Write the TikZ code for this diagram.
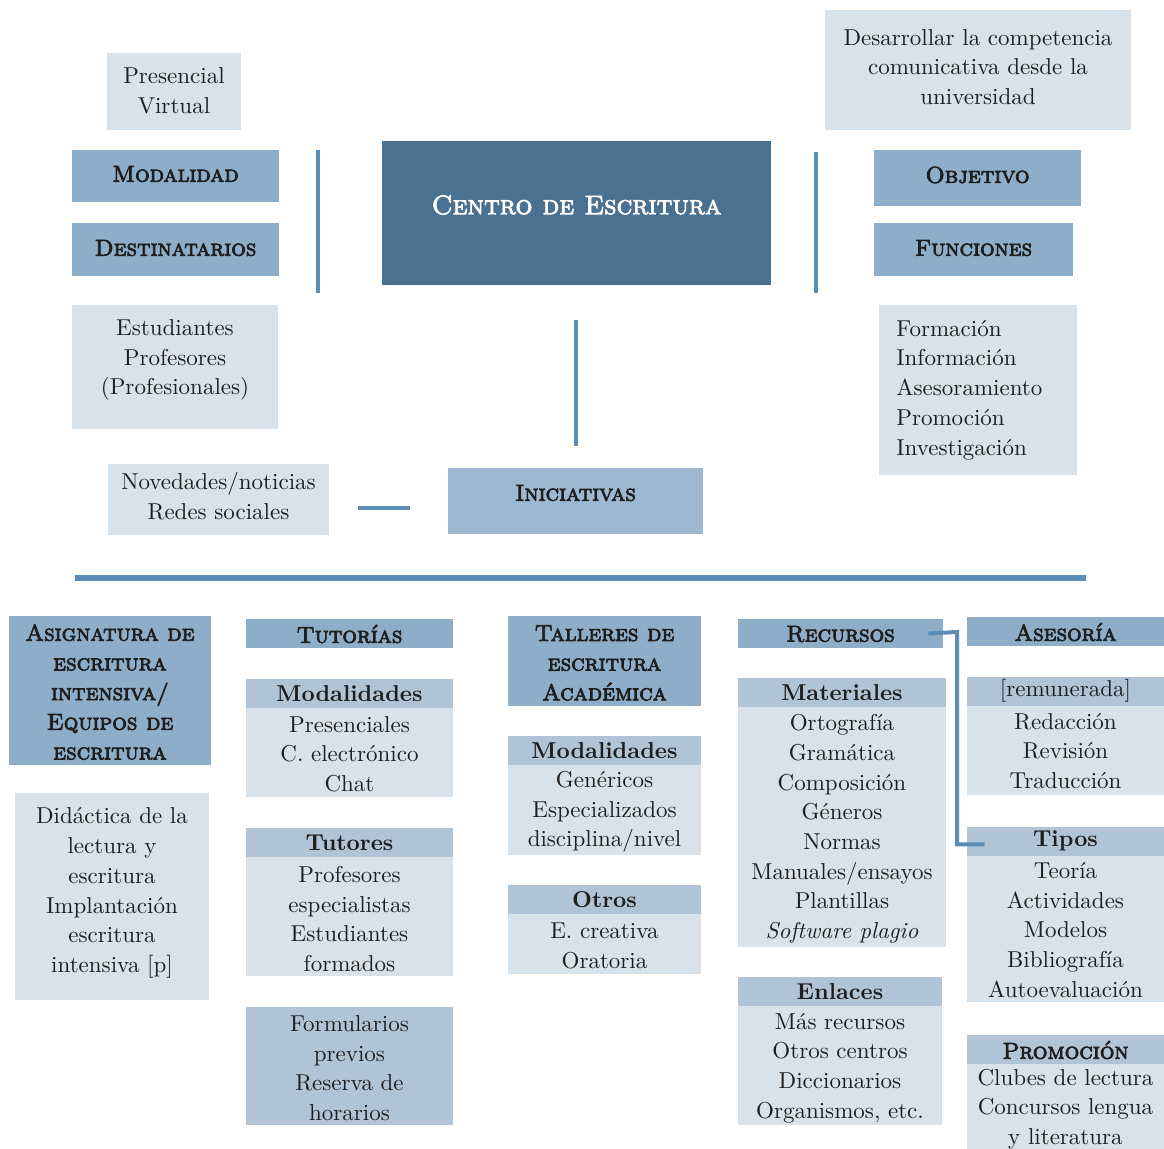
\documentclass[tikz,border=0pt]{standalone}
\usepackage{fontspec}
\newfontfamily\capsfont{lmromancaps10-regular.otf}
\newfontfamily\bodyf{lmroman10-regular.otf}[ItalicFont=lmroman10-italic.otf, BoldFont=lmroman10-bold.otf]
\newcommand\heavytext{\special{pdf:literal direct 2 Tr 0.38 w}}
\usetikzlibrary{calc}
\definecolor{cdark}{HTML}{4B7191}
\definecolor{cmed}{HTML}{8EADC8}
\definecolor{cini}{HTML}{9DB8D0}
\definecolor{csub}{HTML}{B0C4D6}
\definecolor{clight}{HTML}{D7E2EB}
\definecolor{cline}{HTML}{5B8DB5}
\definecolor{ctext}{HTML}{1E1E1E}
\tikzset{
  boxbase/.style={rectangle, inner sep=0pt, draw=none},
  darkbox/.style={boxbase, fill=cdark},
  medbox/.style={boxbase, fill=cmed},
  inibox/.style={boxbase, fill=cini},
  subbox/.style={boxbase, fill=csub},
  lightbox/.style={boxbase, fill=clight},
  txt/.style={align=center, inner sep=0pt, text=ctext, font=\bodyf\fontsize{11.5}{14.85}\selectfont},
  hd/.style={align=center, inner sep=0pt, text=ctext, font=\capsfont\fontsize{11.5}{14.85}\selectfont\heavytext},
  sh/.style={align=center, inner sep=0pt, text=ctext, font=\bodyf\bfseries\fontsize{11.5}{14.85}\selectfont},
  title/.style={align=center, inner sep=0pt, text=white, font=\capsfont\fontsize{13.4}{16}\selectfont\heavytext},
  conn/.style={draw=cline, line width=2pt},
  bigconn/.style={draw=cline, line width=2.6pt}
}
% name, box style, x1, y1, x2, y2, text style, text y, text
\newcommand\bx[9]{%
  \node[#2, minimum width={(#5-#3)*0.5pt}, minimum height={(#6-#4)*0.5pt}] (#1) at ({(#3+#5)/2},{(#4+#6)/2}) {};
  \node[#7] (#1-t) at ({(#3+#5)/2},#8) {#9};}
\begin{document}
\begin{tikzpicture}[x=0.5pt,y=-0.5pt]
\useasboundingbox[fill=white] (0,0) rectangle (1164,1149);
% ---- top left
\bx{pv}{lightbox}{107}{53}{241}{130}{txt}{91}{Presencial\\Virtual}
\bx{modalidad}{medbox}{72}{150}{279}{202}{hd}{174}{Modalidad}
\bx{destin}{medbox}{72}{223}{279}{276}{hd}{248}{Destinatarios}
\bx{estud}{lightbox}{72}{305}{278}{429}{txt}{360}{Estudiantes\\Profesores\\(Profesionales)}
% ---- centre
\bx{centro}{darkbox}{382}{141}{771}{285}{title}{205}{Centro de Escritura}
% ---- top right
\bx{desarr}{lightbox}{825}{10}{1131}{130}{txt}{67}{Desarrollar la competencia\\comunicativa desde la\\universidad}
\bx{objetivo}{medbox}{874}{150}{1081}{206}{hd}{175}{Objetivo}
\bx{funciones}{medbox}{874}{223}{1073}{276}{hd}{248}{Funciones}
\node[lightbox, minimum width={(1077-879)*0.5pt}, minimum height={(475-305)*0.5pt}] (formac) at ({(879+1077)/2},{(305+475)/2}) {};
\node[txt, align=left, anchor=west] (formac-t) at (896,390) {Formación\\Información\\Asesoramiento\\Promoción\\Investigación};
% ---- iniciativas
\bx{inic}{inibox}{448}{468}{703}{534}{hd}{493}{Iniciativas}
\bx{noved}{lightbox}{108}{464}{329}{535}{txt}{496}{Novedades/noticias\\Redes sociales}
% ---- lines
\coordinate (l1a) at (318,150); \coordinate (l1b) at (318,293);
\coordinate (l2a) at (816,152); \coordinate (l2b) at (816,293);
\coordinate (l3a) at (576,320); \coordinate (l3b) at (576,446);
\coordinate (l4a) at (358,508); \coordinate (l4b) at (410,508);
\coordinate (l5a) at (75,578);  \coordinate (l5b) at (1086,578);
\draw[conn] (l1a) -- (l1b);
\draw[conn] (l2a) -- (l2b);
\draw[conn] (l3a) -- (l3b);
\draw[conn] (l4a) -- (l4b);
\draw[bigconn] (l5a) -- (l5b);
% ---- column 1
\bx{asig}{medbox}{9}{616}{211}{765}{hd}{692}{Asignatura de\\escritura\\intensiva/\\Equipos de\\escritura}
\bx{didac}{lightbox}{15}{793}{209}{1000}{txt}{893}{Didáctica de la\\lectura y\\escritura\\Implantación\\escritura\\intensiva [p]}
% ---- column 2
\bx{tutorias}{medbox}{246}{619}{453}{648}{hd}{634}{Tutorías}
\bx{tmodh}{subbox}{246}{679}{453}{708}{sh}{694}{Modalidades}
\bx{tmodb}{lightbox}{246}{708}{453}{797}{txt}{754}{Presenciales\\C. electrónico\\Chat}
\bx{ttuth}{subbox}{246}{828}{453}{857}{sh}{843}{Tutores}
\bx{ttutb}{lightbox}{246}{857}{453}{976}{txt}{919}{Profesores\\especialistas\\Estudiantes\\formados}
\bx{formul}{subbox}{246}{1007}{453}{1125}{txt}{1068}{Formularios\\previos\\Reserva de\\horarios}
% ---- column 3
\bx{talleres}{medbox}{508}{616}{701}{706}{hd}{663}{Talleres de\\escritura\\Académica}
\bx{wmodh}{subbox}{508}{736}{701}{765}{sh}{751}{Modalidades}
\bx{wmodb}{lightbox}{508}{765}{701}{855}{txt}{812}{Genéricos\\Especializados\\disciplina/nivel}
\bx{otrosh}{subbox}{508}{885}{701}{914}{sh}{900}{Otros}
\bx{otrosb}{lightbox}{508}{914}{701}{974}{txt}{946}{E. creativa\\Oratoria}
% ---- column 4
\bx{recursos}{medbox}{738}{619}{943}{648}{hd}{634}{Recursos}
\bx{math}{subbox}{738}{678}{946}{707}{sh}{693}{Materiales}
\bx{matb}{lightbox}{738}{707}{946}{947}{txt}{829}{Ortografía\\Gramática\\Composición\\Géneros\\Normas\\Manuales/ensayos\\Plantillas\\\textit{Software plagio}}
\bx{enlh}{subbox}{738}{977}{942}{1006}{sh}{992}{Enlaces}
\bx{enlb}{lightbox}{738}{1006}{942}{1125}{txt}{1068}{Más recursos\\Otros centros\\Diccionarios\\Organismos, etc.}
% ---- column 5
\bx{asesoria}{medbox}{967}{617}{1164}{646}{hd}{632}{Asesoría}
\bx{remh}{subbox}{967}{677}{1164}{706}{txt}{691}{[remunerada]}
\bx{remb}{lightbox}{967}{706}{1164}{795}{txt}{751}{Redacción\\Revisión\\Traducción}
\bx{tiph}{subbox}{967}{827}{1164}{856}{sh}{841}{Tipos}
\bx{tipb}{lightbox}{967}{856}{1164}{1002}{txt}{930}{Teoría\\Actividades\\Modelos\\Bibliografía\\Autoevaluación}
\bx{promh}{subbox}{967}{1035}{1164}{1064}{hd}{1050}{Promoción}
\bx{promb}{lightbox}{967}{1064}{1164}{1160}{txt}{1109}{Clubes de lectura\\Concursos lengua\\y literatura}
% ---- connector recursos -> tipos
\coordinate (rc1) at (957,632);
\draw[conn] ([xshift=-7.5pt]recursos.east) -- (rc1) |- ([xshift=9pt,yshift=-1.5pt]tiph.west);
\end{tikzpicture}
\end{document}
